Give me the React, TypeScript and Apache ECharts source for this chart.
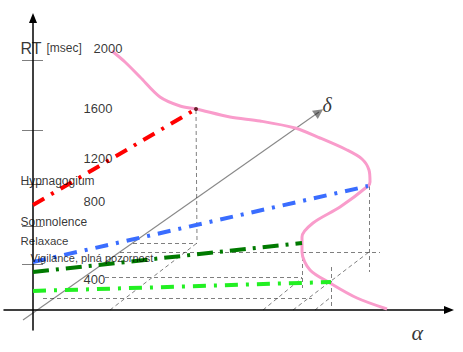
import React, { useEffect, useRef } from "react";
import * as echarts from "echarts";

// diagram coordinates: u = horizontal (α direction), v = vertical (RT direction)
const pinkCurve: number[][] = [
  [79, 259], [92, 248], [107, 233], [127, 213], [147, 204], [163, 201],
  [197, 193], [227, 189], [262, 182], [287, 172], [314, 160], [329, 151],
  [336, 140], [337, 128], [335, 124], [307, 103], [280, 87], [269, 73], [269, 58],
  [277, 40], [297, 27], [324, 12], [354, 1],
];
const hypnagogiumLine: number[][] = [[0, 105], [163, 201]];
const somnolenceLine: number[][] = [[0, 48], [335, 124]];
const relaxaceLine: number[][] = [[0, 38], [269, 67]];
const vigilanceLine: number[][] = [[0, 19], [298, 28]];

const deltaAxis: number[][] = [[-10, -10], [286, 198]];

const guideLines: number[][][] = [
  [[163, 200], [164, 67]],
  [[100, 67], [164, 67]],
  [[77, 0], [164, 67]],
  [[87, 58], [347, 58]],
  [[72, 33], [269, 33]],
  [[269, 67], [269, 22]],
  [[10, 12], [279, 12]],
  [[298, 43], [298, 2]],
  [[336, 124], [336, 38]],
  [[230, 0], [269, 32]],
  [[260, 0], [336, 58]],
  [[282, 0], [298, 13]],
];

const tickValues: number[] = [250, 180, 126, 84, 46];

const rtLabels: string[] = ["2000", "1600", "1200", "800", "400"];
const rtLabelPos: number[][] = [[60, 262], [50, 202], [50, 152], [50, 109], [50, 31]];
const stateLabels: string[] = ["Hypnagogium", "Somnolence", "Relaxace", "Vigilance, plná pozornost"];
const stateLabelPos: number[][] = [[-13, 129], [-13, 88], [-13, 69], [-3, 52]];
const stateLabelSize: number[] = [12, 12, 11.5, 11];

const SANS = "'Liberation Sans', Arial, sans-serif";
const SERIF = "'Liberation Serif', 'DejaVu Serif', serif";

function dashLine(name: string, data: number[][], color: string, dash: number[]) {
  return {
    type: "line",
    name,
    data,
    symbol: "none",
    lineStyle: { color, width: 4, type: dash, cap: "butt" },
    z: 5,
  };
}

export default function App() {
  const ref = useRef<HTMLDivElement>(null);
  useEffect(() => {
    if (!ref.current) return;
    const chart = echarts.init(ref.current, null, { renderer: "svg" });
    const textItems: any[] = [];
    rtLabels.forEach((t, i) =>
      textItems.push({ value: rtLabelPos[i], label: { formatter: t, fontSize: 13 } })
    );
    stateLabels.forEach((t, i) =>
      textItems.push({ value: stateLabelPos[i], label: { formatter: t, fontSize: stateLabelSize[i] } })
    );
    textItems.push({ value: [-13, 262], label: { formatter: "RT", fontSize: 16 } });
    textItems.push({ value: [13, 262], label: { formatter: "[msec]", fontSize: 12 } });
    textItems.push({
      value: [289, 205],
      label: { formatter: "δ", fontSize: 20, fontStyle: "italic", fontFamily: SERIF },
    });
    textItems.push({
      value: [378, -22],
      label: { formatter: "α", fontSize: 22, fontStyle: "italic", fontFamily: SERIF },
    });

    const axisLine = {
      show: true,
      onZero: true,
      symbol: ["none", "triangle"],
      symbolSize: [8, 10],
      lineStyle: { color: "#000", width: 1.5 },
    };

    chart.setOption({
      animation: false,
      grid: { left: 4, right: 14, top: 18, bottom: 22 },
      xAxis: {
        type: "value",
        min: -29,
        max: 416,
        axisLine,
        axisTick: { show: false },
        axisLabel: { show: false },
        splitLine: { show: false },
      },
      yAxis: {
        type: "value",
        min: -20,
        max: 292,
        axisLine,
        axisTick: { show: false },
        axisLabel: { show: false },
        splitLine: { show: false },
      },
      series: [
        {
          type: "lines",
          coordinateSystem: "cartesian2d",
          data: guideLines.map((c) => ({ coords: c })),
          lineStyle: { color: "#000", width: 1, type: [4, 3] },
          silent: true,
          z: 2,
        },
        {
          type: "lines",
          coordinateSystem: "cartesian2d",
          data: tickValues.map((v) => ({ coords: [[-11, v], [10, v]] })),
          lineStyle: { color: "#000", width: 1.2 },
          silent: true,
          z: 2,
        },
        {
          type: "lines",
          coordinateSystem: "cartesian2d",
          data: [{ coords: deltaAxis }],
          symbol: ["none", "triangle"],
          symbolSize: [8, 10],
          lineStyle: { color: "#111", width: 1.1 },
          itemStyle: { color: "#111" },
          silent: true,
          z: 3,
        },
        {
          type: "line",
          name: "RT",
          data: pinkCurve,
          smooth: 0.3,
          symbol: "none",
          lineStyle: { color: "#f99ccb", width: 3 },
          z: 4,
        },
        dashLine("Hypnagogium", hypnagogiumLine, "#ff0000", [13, 8, 3, 8]),
        dashLine("Somnolence", somnolenceLine, "#3a6dff", [13, 8, 3, 8]),
        dashLine("Relaxace", relaxaceLine, "#007a00", [16, 7, 3, 7]),
        dashLine("Vigilance", vigilanceLine, "#22f022", [13, 8, 3, 8]),
        {
          type: "scatter",
          data: [hypnagogiumLine[1]],
          symbolSize: 4,
          itemStyle: { color: "#400" },
          z: 6,
        },
        {
          type: "scatter",
          data: textItems,
          symbolSize: 1,
          clip: false,
          itemStyle: { color: "rgba(0,0,0,0)" },
          label: {
            show: true,
            position: "right",
            distance: 0,
            color: "#000",
            fontFamily: SANS,
          },
          silent: true,
          z: 7,
        },
      ],
    });
    return () => chart.dispose();
  }, []);
  return (
    <div
      ref={ref}
      style={{ position: "fixed", left: 0, top: 0, width: 463, height: 352, background: "#fff" }}
    />
  );
}
